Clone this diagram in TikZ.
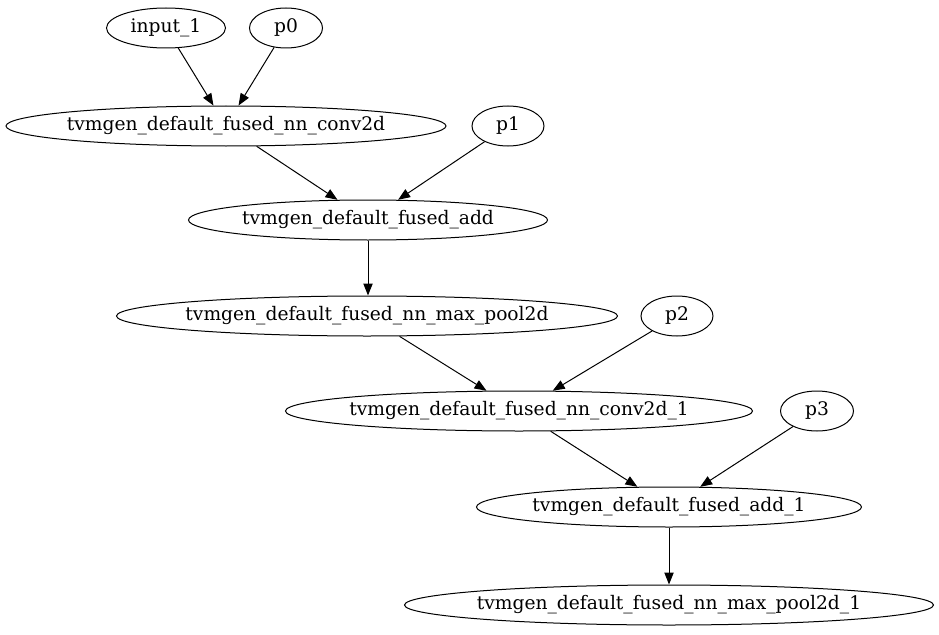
\documentclass[tikz,border=0pt]{standalone}
\usepackage{fontspec}
\setmainfont{DejaVu Serif}
\usetikzlibrary{shapes.geometric,arrows.meta}
\tikzset{
  gv/.style={ellipse, draw, line width=0.75pt, inner sep=0pt, font=\fontsize{14}{16}\selectfont},
  gvedge/.style={line width=0.75pt, -{Triangle[length=9pt, width=7pt]}},
}
\newcommand{\gvtext}[1]{\makebox[0pt]{#1}}
\begin{document}
\begin{tikzpicture}[x=0.75pt, y=-0.75pt]
\useasboundingbox (0,0) rectangle (939,635);
\node[gv, minimum width=119*0.75pt, minimum height=40*0.75pt] (in1) at (166,28) {\gvtext{input\_1}};
\node[gv, minimum width=73*0.75pt, minimum height=40*0.75pt] (p0) at (286,28) {\gvtext{p0}};
\node[gv, minimum width=440*0.75pt, minimum height=40*0.75pt] (conv) at (226,126) {\gvtext{tvmgen\_default\_fused\_nn\_conv2d}};
\node[gv, minimum width=72*0.75pt, minimum height=40*0.75pt] (p1) at (508,126) {\gvtext{p1}};
\node[gv, minimum width=359*0.75pt, minimum height=40*0.75pt] (add) at (368,220) {\gvtext{tvmgen\_default\_fused\_add}};
\node[gv, minimum width=501*0.75pt, minimum height=40*0.75pt] (pool) at (367,316) {\gvtext{tvmgen\_default\_fused\_nn\_max\_pool2d}};
\node[gv, minimum width=72*0.75pt, minimum height=40*0.75pt] (p2) at (677,316) {\gvtext{p2}};
\node[gv, minimum width=467*0.75pt, minimum height=40*0.75pt] (conv1) at (519,411) {\gvtext{tvmgen\_default\_fused\_nn\_conv2d\_1}};
\node[gv, minimum width=73*0.75pt, minimum height=40*0.75pt] (p3) at (817,411) {\gvtext{p3}};
\node[gv, minimum width=385*0.75pt, minimum height=40*0.75pt] (add1) at (669,507) {\gvtext{tvmgen\_default\_fused\_add\_1}};
\node[gv, minimum width=529*0.75pt, minimum height=40*0.75pt] (pool1) at (669,605) {\gvtext{tvmgen\_default\_fused\_nn\_max\_pool2d\_1}};
\draw[gvedge] (in1) -- (conv);
\draw[gvedge] (p0) -- (conv);
\draw[gvedge] (conv) -- (add);
\draw[gvedge] (p1) -- (add);
\draw[gvedge] (add) -- (add|-pool.north);
\draw[gvedge] (pool) -- (conv1);
\draw[gvedge] (p2) -- (conv1);
\draw[gvedge] (conv1) -- (add1);
\draw[gvedge] (p3) -- (add1);
\draw[gvedge] (add1) -- (pool1);
\end{tikzpicture}
\end{document}
